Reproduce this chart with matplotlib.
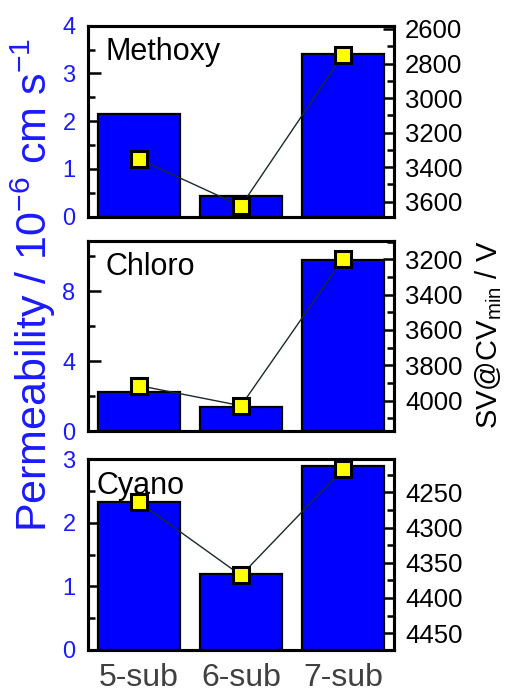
import matplotlib
matplotlib.use("Agg")
import matplotlib.pyplot as plt
from matplotlib.ticker import MultipleLocator

plt.rcParams['font.family'] = ['Liberation Sans', 'DejaVu Sans']
plt.rcParams['mathtext.default'] = 'regular'

categories = ["5-sub", "6-sub", "7-sub"]
panel_names = ["Methoxy", "Chloro", "Cyano"]

perm_methoxy = [2.15, 0.44, 3.40]
perm_chloro = [2.21, 1.37, 9.77]
perm_cyano = [2.33, 1.19, 2.89]

sv_methoxy = [3354, 3625, 2750]
sv_chloro = [3915, 4029, 3200]
sv_cyano = [4264, 4368, 4217]

perm_data = [perm_methoxy, perm_chloro, perm_cyano]
sv_data = [sv_methoxy, sv_chloro, sv_cyano]

left_lims = [(0, 4.0), (0, 10.9), (0, 3.0)]
left_major = [1, 4, 1]
left_minor = [0.5, 2, 0.5]
right_lims = [(3687, 2581), (4172, 3095), (4474, 4203)]
right_major = [200, 200, 50]
right_minor = [100, 100, 25]

fig = plt.figure(figsize=(5.11, 6.95), dpi=100)
left = 88 / 511
width = (394 - 88) / 511
boxes = [(25.7, 216.7), (240.7, 431.0), (459.3, 650.0)]

blue = '#0000FF'
for i in range(3):
    top, bot = boxes[i]
    ax = fig.add_axes([left, 1 - bot / 695, width, (bot - top) / 695])
    x = list(range(len(categories)))
    ax.bar(x, perm_data[i], width=0.8, color=blue, edgecolor='black', linewidth=1.6, zorder=2)
    ax.set_xlim(-0.5, 2.5)
    ax.set_ylim(*left_lims[i])
    ax.yaxis.set_major_locator(MultipleLocator(left_major[i]))
    ax.yaxis.set_minor_locator(MultipleLocator(left_minor[i]))
    ax.tick_params(axis='y', which='major', direction='in', length=9, width=1.8,
                   labelsize=17, labelcolor='#1a1aff', pad=9)
    ax.tick_params(axis='y', which='minor', direction='in', length=5, width=1.8)
    ax.set_xticks(x)
    if i == 2:
        ax.set_xticklabels(categories, fontsize=23, color='#404040')
    else:
        ax.set_xticklabels([])
    ax.tick_params(axis='x', length=0, pad=9)
    for s in ax.spines.values():
        s.set_linewidth(2.2)
    ax.text(0.056 if i < 2 else 0.028, 0.94, panel_names[i], transform=ax.transAxes,
            fontsize=22, va='top', ha='left', color='black', zorder=5)

    ax2 = ax.twinx()
    ax2.plot(x, sv_data[i], color='#1a2a2a', linewidth=1.0, marker='s', markersize=12,
             markerfacecolor='#FFFF00', markeredgecolor='black', markeredgewidth=2.2, zorder=3)
    ax2.set_ylim(*right_lims[i])
    ax2.yaxis.set_major_locator(MultipleLocator(right_major[i]))
    ax2.yaxis.set_minor_locator(MultipleLocator(right_minor[i]))
    ax2.tick_params(axis='y', which='major', direction='in', length=8, width=1.8,
                    labelsize=18.5, labelcolor='black', pad=8)
    ax2.tick_params(axis='y', which='minor', direction='in', length=5, width=1.8)
    for s in ax2.spines.values():
        s.set_linewidth(2.2)

fig.text(33 / 511, 1 - 285 / 695, r"Permeability / 10$^{-6}$ cm s$^{-1}$",
         rotation=90, ha='center', va='center', fontsize=31, color='#1a1aff')
fig.text(489 / 511, 1 - 335 / 695, r"SV@CV$_{min}$ / V",
         rotation=90, ha='center', va='center', fontsize=21, color='black')

fig.savefig("out.png", dpi=100)
